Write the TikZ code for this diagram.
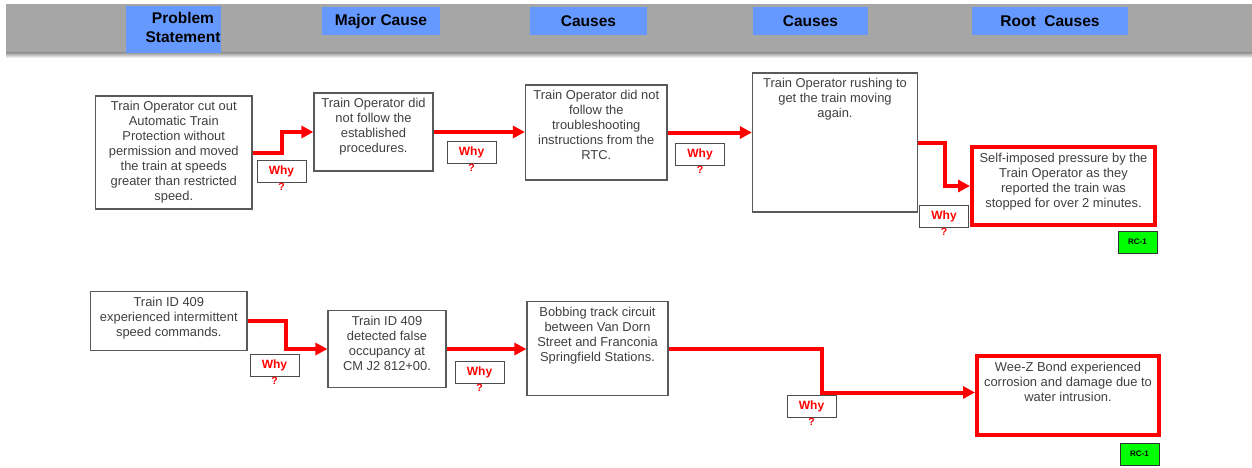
\documentclass[tikz,border=0pt]{standalone}
\usepackage{fontspec}
\setmainfont{Liberation Sans}
\usetikzlibrary{positioning,arrows.meta}
\definecolor{hdrblue}{HTML}{6699FF}
\definecolor{bandgray}{HTML}{A6A6A6}
\definecolor{txtgray}{HTML}{404040}
\definecolor{rcgreen}{HTML}{00FF00}

\begin{document}
\begin{tikzpicture}[x=1pt, y=-1pt,
    box/.style={draw=black!65, line width=1.2pt, fill=white, inner sep=0pt},
    rootbox/.style={draw=red, line width=4pt, fill=white, inner sep=0pt},
    txt/.style={inner sep=0pt, align=center, text=txtgray, font=\fontsize{12.9}{15}\selectfont},
    hdr/.style={fill=hdrblue, inner sep=0pt, minimum height=28pt, font=\bfseries\fontsize{15.5}{19}\selectfont},
    why/.style={draw=black!70, line width=1pt, fill=white, minimum width=49pt, minimum height=22pt, inner sep=0pt,
        text=red, font=\bfseries\fontsize{12}{14}\selectfont, label distance=0pt, label={[qmark]below:?}},
    qmark/.style={text=red, font=\bfseries\fontsize{10.5}{12}\selectfont, inner sep=0pt},
    rc/.style={draw=black!80, line width=0.8pt, fill=rcgreen, minimum width=39pt, minimum height=22pt, inner sep=0pt,
        font=\bfseries\fontsize{8}{9}\selectfont},
    link/.style={draw=red, line width=4pt, -{Triangle[length=12pt,width=12pt]}}]

    \useasboundingbox (0,0) rectangle (1252,467);

    % header band
    \shade[top color=black!45, bottom color=white] (6,52) rectangle (1252,58);
    \fill[bandgray] (6,4) rectangle (1252,52);
    \node[hdr, minimum width=95pt, minimum height=47pt] (hprob) at (173.5,29.5) {};
    \node[hdr, fill=none, align=center] (hprobtxt) at (183,27.5) {Problem\\Statement};
    \node[hdr, minimum width=118pt] (hmajor) at (381,21) {Major Cause};
    \node[hdr, minimum width=117pt] (hcause) at (588.5,21) {Causes};
    \node[hdr, minimum width=115pt] (hcause2) at (810.5,21) {Causes};
    \node[hdr, minimum width=156pt] (hroot) at (1050,21) {Root~~Causes};

    % first chain
    \node[box, minimum width=156.5pt, minimum height=113pt] (ato) at (173.75,152.5) {};
    \node[txt, below=6pt of ato.north] (atotxt) {Train Operator cut out\\Automatic Train\\Protection without\\permission and moved\\the train at speeds\\greater than restricted\\speed.};
    \node[box, minimum width=119pt, minimum height=78pt] (nofollow) at (373.5,132) {};
    \node[txt, below=6pt of nofollow.north] (nofollowtxt) {Train Operator did\\not follow the\\established\\procedures.};
    \node[box, minimum width=141.5pt, minimum height=95pt] (trouble) at (596.25,132.5) {};
    \node[txt, below=6pt of trouble.north] (troubletxt) {Train Operator did not\\follow the\\troubleshooting\\instructions from the\\RTC.};
    \node[box, minimum width=165pt, minimum height=139pt] (rushing) at (835,142.5) {};
    \node[txt, below=6pt of rushing.north] (rushingtxt) {Train Operator rushing to\\get the train moving\\again.};
    \node[rootbox, minimum width=183pt, minimum height=78pt] (pressure) at (1063.5,186) {};
    \node[txt, below=8pt of pressure.north] (pressuretxt) {Self-imposed pressure by the\\Train Operator as they\\reported the train was\\stopped for over 2 minutes.};

    \draw[link] (ato.east) -- ++(29.5,0) |- (nofollow.west);
    \draw[link] (nofollow.east) -- (nofollow.east -| trouble.west);
    \draw[link] (trouble.east) -- (trouble.east -| rushing.west);
    \draw[link] (rushing.east) -- ++(26.5,0) |- (pressure.west);

    \node[why] (why1) at (281.5,171) {Why};
    \node[why] (why2) at (471.5,152) {Why};
    \node[why] (why3) at (700,154) {Why};
    \node[why] (why4) at (944,216) {Why};
    \node[rc] (rc1) at (1137.5,242) {RC-1};

    % second chain
    \node[box, minimum width=156.4pt, minimum height=58.6pt] (train) at (168.8,321) {};
    \node[txt, below=6pt of train.north] (traintxt) {Train ID 409\\experienced intermittent\\speed commands.};
    \node[box, minimum width=118pt, minimum height=76.6pt] (occupancy) at (387,349) {};
    \node[txt, below=6pt of occupancy.north] (occupancytxt) {Train ID 409\\detected false\\occupancy at\\CM J2 812+00.};
    \node[box, minimum width=141pt, minimum height=94.4pt] (bobbing) at (597.5,348.5) {};
    \node[txt, below=6pt of bobbing.north] (bobbingtxt) {Bobbing track circuit\\between Van Dorn\\Street and Franconia\\Springfield Stations.};
    \node[rootbox, minimum width=182pt, minimum height=79pt] (weez) at (1068,395.5) {};
    \node[txt, below=8pt of weez.north] (weeztxt) {Wee-Z Bond experienced\\corrosion and damage due to\\water intrusion.};

    \draw[link] (train.east) -- ++(38.7,0) |- (occupancy.west);
    \draw[link] (occupancy.east) -- (occupancy.east -| bobbing.west);
    \draw[link] (bobbing.east) -- ++(153.6,0) |- ([yshift=3pt]weez.west);

    \node[why] (why5) at (274.5,365.5) {Why};
    \node[why] (why6) at (479.5,372) {Why};
    \node[why] (why7) at (811.5,406.5) {Why};
    \node[rc] (rc2) at (1139.5,454) {RC-1};
\end{tikzpicture}
\end{document}
